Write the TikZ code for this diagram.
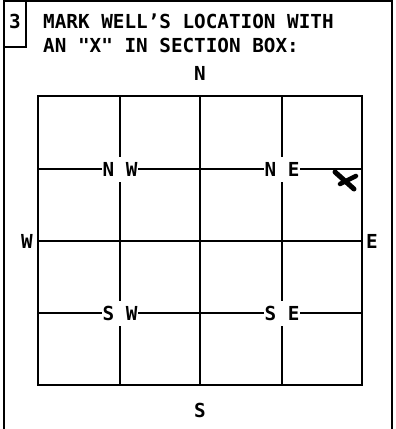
\documentclass[tikz,border=0pt]{standalone}
\usepackage{fontspec}
\newfontfamily\plotfont{DejaVu Sans Mono}
\begin{document}
\begin{tikzpicture}[x=1pt,y=-1pt,
  lbl/.style={font=\plotfont\bfseries\fontsize{19.3}{22}\selectfont, inner sep=0pt},
  sec/.style={lbl, fill=white, inner xsep=0.5pt, inner ysep=5.5pt},
  grid/.style={line width=1.7pt},
  frame/.style={line width=1.3pt}]
\useasboundingbox (0,0) rectangle (396,429);
% outer frame
\draw[frame] (4,429) -- (4,1) -- (392,1) -- (392,429);
\draw[frame] (4,47) -- (26,47) -- (26,1);
\node[lbl, anchor=base] (num) at (15,28) {3};
\node[lbl, anchor=base west] (t1) at (43,28) {MARK WELL’S LOCATION WITH};
\node[lbl, anchor=base west] (t2) at (43,52) {AN "X" IN SECTION BOX:};
% grid
\draw[grid] (38,96) rectangle (362,385);
\draw[grid] (120,96) -- (120,385);
\draw[grid] (200,96) -- (200,385);
\draw[grid] (282,96) -- (282,385);
\draw[grid] (38,169) -- (362,169);
\draw[grid] (38,241) -- (362,241);
\draw[grid] (38,313) -- (362,313);
% section labels
\node[sec] (nw) at (120,169.5) {N W};
\node[sec] (ne) at (282,169.5) {N E};
\node[sec] (sw) at (120,313.5) {S W};
\node[sec] (se) at (282,313.5) {S E};
% compass
\node[lbl] (n) at (200,73) {N};
\node[lbl] (s) at (200,410) {S};
\node[lbl] (w) at (27,241) {W};
\node[lbl] (e) at (372,241) {E};
% the X mark
\draw[line width=5pt, line cap=round] (335,172) -- (354,189);
\draw[line width=4.5pt, line cap=round] (340,184) -- (356,176);
\end{tikzpicture}
\end{document}
